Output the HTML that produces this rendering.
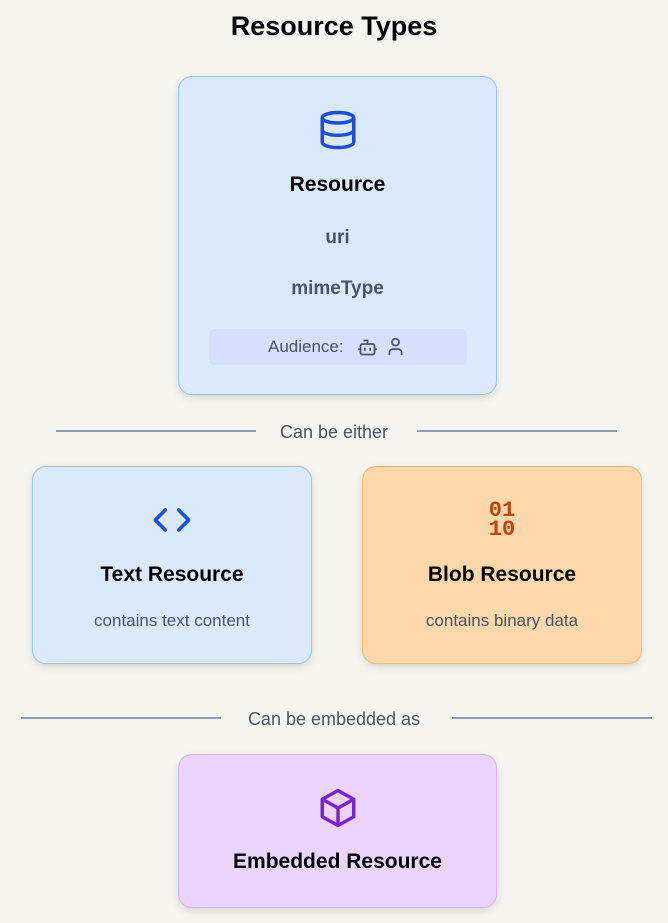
<!DOCTYPE html>
<html><head><style>
body{margin:0;width:668px;height:923px;background:#f5f4ee;font-family:"Liberation Sans",sans-serif;position:relative;overflow:hidden}
.abs{position:absolute}
.card{position:absolute;border-radius:14px;box-shadow:0 3px 8px rgba(0,0,0,0.12);box-sizing:border-box;text-align:center}
.t{position:absolute;left:0;right:0;text-align:center}
.line{position:absolute;height:2px;background:#8f9bb0}
</style></head><body>
<div class="t" style="top:11px;font-size:27px;font-weight:bold;color:#000">Resource Types</div>

<div class="card" style="left:178px;top:76px;width:319px;height:319px;background:#dbe9fe;border:1px solid #93c5fd">
  <svg class="abs" style="left:138px;top:32px" width="42" height="42" viewBox="0 0 24 24" fill="none" stroke="#1d4ed8" stroke-width="2" stroke-linecap="round"><ellipse cx="12" cy="5" rx="9" ry="3"/><path d="M3 5v14c0 1.7 4 3 9 3s9-1.3 9-3V5"/><path d="M3 12c0 1.7 4 3 9 3s9-1.3 9-3"/></svg>
  <div class="t" style="top:96px;font-size:21px;font-weight:bold;color:#000">Resource</div>
  <div class="t" style="top:150px;font-size:19px;font-weight:bold;color:#475569">uri</div>
  <div class="t" style="top:201px;font-size:19px;font-weight:bold;color:#475569">mimeType</div>
  <div class="abs" style="left:30px;top:252px;width:258px;height:36px;background:#d4e0fc;border-radius:5px;font-size:17px;color:#475569;line-height:36px;text-align:left">
    <span style="margin-left:59px">Audience:</span>
    <svg class="abs" style="left:148px;top:8px" width="21" height="21" viewBox="0 0 24 24" fill="none" stroke="#475569" stroke-width="2" stroke-linecap="round"><rect x="4" y="8" width="16" height="12" rx="2"/><path d="M12 8V4H8M2 14h2M20 14h2M9 13v2M15 13v2"/></svg>
    <svg class="abs" style="left:176px;top:7px" width="21" height="21" viewBox="0 0 24 24" fill="none" stroke="#475569" stroke-width="2" stroke-linecap="round"><circle cx="12" cy="7" r="4"/><path d="M19 21v-2a4 4 0 0 0-4-4H9a4 4 0 0 0-4 4v2"/></svg>
  </div>
</div>

<div class="line" style="left:56px;top:430px;width:200px"></div>
<div class="line" style="left:417px;top:430px;width:200px"></div>
<div class="t" style="top:422px;font-size:18px;color:#475569">Can be either</div>

<div class="card" style="left:32px;top:466px;width:280px;height:198px;background:#dbe9fe;border:1px solid #93c5fd">
  <svg class="abs" style="left:117px;top:33px" width="44" height="40" viewBox="0 0 24 24" fill="none" stroke="#1d4ed8" stroke-width="2.2" stroke-linecap="round" stroke-linejoin="round"><path d="M8 6l-6 6 6 6M16 6l6 6-6 6"/></svg>
  <div class="t" style="top:96px;font-size:21px;font-weight:bold;color:#000">Text Resource</div>
  <div class="t" style="top:144px;font-size:17px;color:#475569">contains text content</div>
</div>

<div class="card" style="left:362px;top:466px;width:280px;height:198px;background:#fed7aa;border:1px solid #fdba74">
  <div class="t" style="top:34px;font-family:'Liberation Mono',monospace;font-weight:bold;font-size:22px;line-height:19px;color:#c2410c">01<br>10</div>
  <div class="t" style="top:96px;font-size:21px;font-weight:bold;color:#000">Blob Resource</div>
  <div class="t" style="top:144px;font-size:17px;color:#475569">contains binary data</div>
</div>

<div class="line" style="left:21px;top:717px;width:200px"></div>
<div class="line" style="left:452px;top:717px;width:200px"></div>
<div class="t" style="top:709px;font-size:18px;color:#475569">Can be embedded as</div>

<div class="card" style="left:178px;top:754px;width:319px;height:154px;background:#e9d5ff;border:1px solid #d8b4fe">
  <svg class="abs" style="left:138px;top:32px" width="42" height="42" viewBox="0 0 24 24" fill="none" stroke="#7e22ce" stroke-width="2" stroke-linejoin="round"><path d="M12 2l9 5v10l-9 5-9-5V7z"/><path d="M3 7l9 5 9-5M12 12v10"/></svg>
  <div class="t" style="top:95px;font-size:21px;font-weight:bold;color:#000">Embedded Resource</div>
</div>
</body></html>
